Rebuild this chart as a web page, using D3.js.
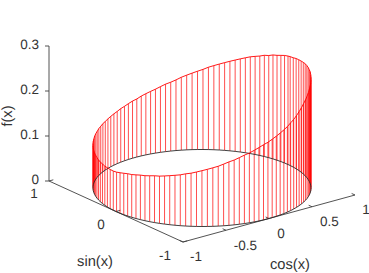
<!DOCTYPE html>
<html><head><meta charset="utf-8">
<script src="https://cdnjs.cloudflare.com/ajax/libs/d3/7.8.5/d3.min.js"></script>
<style>html,body{margin:0;padding:0;background:#fff}svg{display:block}text{font-family:"Liberation Sans",Arial,sans-serif;fill:#333;text-rendering:geometricPrecision}</style>
</head><body><svg id="c" width="369" height="273"></svg>
<script>
const fValues=[.241,.239,.236,.233,.231,.227,.225,.221,.218,.215,.211,.207,.203,.199,.195,.191,.187,.183,.178,.174,.170,.166,.162,.157,.153,.150,.146,.142,.139,.136,.133,.129,.127,.124,.121,.119,.116,.114,.112,.110,.108,.107,.105,.104,.102,.101,.100,.098,.097,.096,.095,.094,.093,.092,.091,.090,.089,.088,.088,.087,.087,.087,.087,.088,.090,.092,.094,.095,.097,.099,.100,.102,.104,.105,.107,.109,.111,.113,.116,.118,.121,.124,.127,.130,.133,.137,.141,.144,.148,.152,.155,.159,.163,.167,.170,.174,.178,.182,.186,.190,.195,.199,.204,.209,.214,.219,.223,.227,.231,.235,.238,.240,.242,.244,.246,.248,.248,.249,.249,.249,.248,.247,.246,.245,.243,.242];
const xValues=fValues.map((_,i)=>i*0.05); // sample positions along the closed curve, radians
const cosTicks=[-1,-0.5,0,0.5,1], cosLabels=["-1","-0.5","0","0.5","1"];
const sinTicks=[-1,0,1], sinLabels=["-1","0","1"];
const zTicks=[0,0.1,0.2,0.3], zLabels=["0","0.1","0.2","0.3"];
// oblique 3-D projection as sums of linear scales
const cx=d3.scaleLinear().domain([-1,1]).range([-86,86]);
const cy=d3.scaleLinear().domain([-1,1]).range([23.5,-23.5]);
const sx=d3.scaleLinear().domain([-1,1]).range([67,-67]);
const sy=d3.scaleLinear().domain([-1,1]).range([30.5,-30.5]);
const zs=d3.scaleLinear().domain([0,0.3]).range([0,-135]);
const P=(c,s,z)=>[202+cx(c)+sx(s),188+cy(c)+sy(s)+zs(z)];
const svg=d3.select("#c");
const axisCol="#404040", red="#ff0000";
const seg=(a,b,col,w)=>svg.append("line").attr("x1",a[0]).attr("y1",a[1]).attr("x2",b[0]).attr("y2",b[1]).attr("stroke",col).attr("stroke-width",w);
const pts=xValues.map((x,i)=>({c:Math.cos(x),s:Math.sin(x),f:fValues[i]}));
// axes
seg(P(-1,1,0),P(-1,1,.3),axisCol,.9);
seg(P(-1,1,0),P(-1,-1,0),axisCol,.9);
seg(P(-1,-1,0),P(1,-1,0),axisCol,.9);
zTicks.forEach((t,i)=>{const p=P(-1,1,t);seg(p,[p[0]-4,p[1]],axisCol,.9);
 svg.append("text").attr("x",p[0]-10).attr("y",p[1]+2.5).attr("text-anchor","end").attr("font-size",13.5).text(zLabels[i]);});
const sLab=[[165,260],[101,229],[34,198]];
sinTicks.forEach((t,i)=>{const a=P(-1,t,0);seg(a,P(-.95,t,0),axisCol,.9);
 svg.append("text").attr("x",sLab[i][0]).attr("y",sLab[i][1]).attr("text-anchor","middle").attr("font-size",13.5).text(sinLabels[i]);});
const cLab=[[196,261],[245.5,250],[281,238],[329.5,226],[366,214]];
cosTicks.forEach((t,i)=>{const a=P(t,-1,0);seg(a,P(t,-.95,0),axisCol,.9);
 svg.append("text").attr("x",cLab[i][0]).attr("y",cLab[i][1]).attr("text-anchor","middle").attr("font-size",13.5).text(cosLabels[i]);});
svg.append("text").attr("transform","translate(12,116) rotate(-90)").attr("text-anchor","middle").attr("font-size",14.7).text("f(x)");
svg.append("text").attr("x",95).attr("y",266).attr("text-anchor","middle").attr("font-size",14.7).text("sin(x)");
svg.append("text").attr("x",290).attr("y",269).attr("text-anchor","middle").attr("font-size",14.7).text("cos(x)");
// stems
svg.append("g").selectAll("line").data(pts).join("line")
 .attr("x1",d=>P(d.c,d.s,0)[0]).attr("y1",d=>P(d.c,d.s,0)[1])
 .attr("x2",d=>P(d.c,d.s,d.f)[0]).attr("y2",d=>P(d.c,d.s,d.f)[1])
 .attr("stroke",red).attr("stroke-width",.7);
const line=d3.line().curve(d3.curveLinearClosed);
svg.append("path").attr("d",line(pts.map(d=>P(d.c,d.s,0)))).attr("fill","none").attr("stroke","#2a2a2a").attr("stroke-width",.9);
svg.append("path").attr("d",line(pts.map(d=>P(d.c,d.s,d.f)))).attr("fill","none").attr("stroke",red).attr("stroke-width",.9);
</script></body></html>
